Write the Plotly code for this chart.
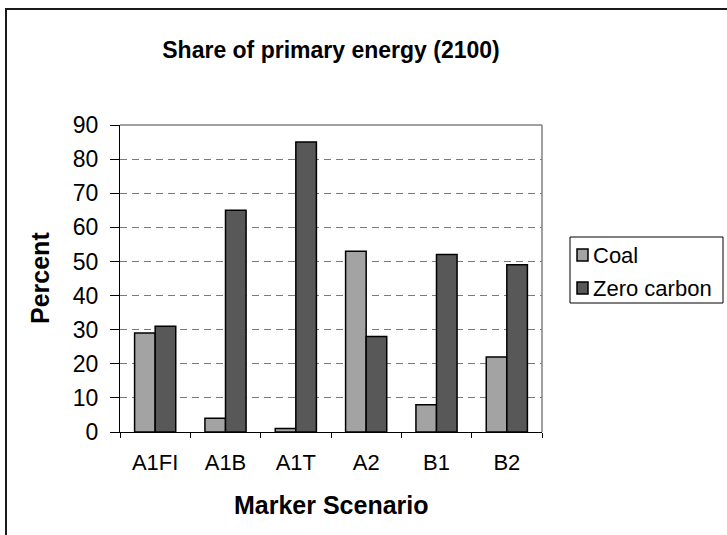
import plotly.graph_objects as go

# Share of primary energy in 2100 by marker scenario
scenarios = ["A1FI", "A1B", "A1T", "A2", "B1", "B2"]
coal = [29, 4, 1, 53, 8, 22]
zero_carbon = [31, 65, 85, 28, 52, 49]
y_ticks = [0, 10, 20, 30, 40, 50, 60, 70, 80, 90]

series = [
    ("Coal", coal, "#a3a3a3"),
    ("Zero carbon", zero_carbon, "#585858"),
]

W, H = 727, 535
L, R, T, B = 120, 542, 125, 432  # plot area in pixels
pw, ph = R - L, B - T


def px(x):
    return (x - L) / pw


def py(y):
    return (B - y) / ph


FONT = "Liberation Sans, Arial, sans-serif"

fig = go.Figure()
for name, vals, col in series:
    fig.add_trace(go.Bar(
        x=scenarios, y=vals, name=name,
        marker=dict(color=col, line=dict(color="black", width=1.5)),
    ))

fig.update_layout(
    width=W, height=H,
    margin=dict(l=L, r=W - R, t=T, b=H - B),
    paper_bgcolor="white", plot_bgcolor="white",
    barmode="group", bargap=0.415, bargroupgap=0,
    font=dict(family=FONT, size=22, color="black"),
    title=dict(text="<b>Share of primary energy (2100)</b>",
               x=331 / W, xanchor="center", y=1 - 50 / H, yanchor="middle",
               font=dict(size=23, family=FONT, color="black")),
    showlegend=False,
)

fig.update_xaxes(
    type="category", showline=True, linecolor="black", linewidth=1,
    ticks="outside", tickson="boundaries", ticklen=5, tickcolor="black",
    showgrid=False, tickfont=dict(size=22, family=FONT),
    ticklabelstandoff=11,
)
fig.update_yaxes(
    range=[0, 90], tickvals=y_ticks, showline=True, linecolor="black",
    linewidth=1, ticks="outside", ticklen=9, tickcolor="black",
    showgrid=True, gridcolor="#7a7a7a", gridwidth=1, griddash="7px,5px",
    zeroline=False, tickfont=dict(size=23, family=FONT),
    ticklabelstandoff=7,
)

shapes = [
    # plot area border (top and right)
    dict(type="line", xref="paper", yref="paper", x0=0, x1=1, y0=1, y1=1,
         line=dict(color="#808080", width=1.5)),
    dict(type="line", xref="paper", yref="paper", x0=1, x1=1, y0=0, y1=1,
         line=dict(color="#808080", width=1.5)),
    # chart frame
    dict(type="rect", xref="paper", yref="paper",
         x0=px(6), x1=px(760), y0=py(560), y1=py(9),
         line=dict(color="#1a1a1a", width=2), layer="above"),
    # legend box
    dict(type="rect", xref="paper", yref="paper",
         x0=px(570), x1=px(723), y0=py(303), y1=py(237),
         line=dict(color="black", width=1), fillcolor="white"),
]

# legend entries: swatch + label per series
row_y = [255, 288]
for (name, _, col), yc in zip(series, row_y):
    shapes.append(dict(type="rect", xref="paper", yref="paper",
                       x0=px(577), x1=px(588), y0=py(yc + 6), y1=py(yc - 6),
                       line=dict(color="black", width=1.5), fillcolor=col))
    fig.add_annotation(text=name, xref="paper", yref="paper",
                       x=px(591), y=py(yc), showarrow=False,
                       xanchor="left", yanchor="middle",
                       font=dict(size=22, family=FONT, color="black"))
fig.update_layout(shapes=shapes)

fig.add_annotation(text="<b>Percent</b>", xref="paper", yref="paper",
                   x=px(40), y=py(278), textangle=-90, showarrow=False,
                   xanchor="center", yanchor="middle",
                   font=dict(size=25, family=FONT, color="black"))
fig.add_annotation(text="<b>Marker Scenario</b>", xref="paper", yref="paper",
                   x=px(331), y=py(505), showarrow=False,
                   xanchor="center", yanchor="middle",
                   font=dict(size=25, family=FONT, color="black"))

fig.write_html("out.html")
